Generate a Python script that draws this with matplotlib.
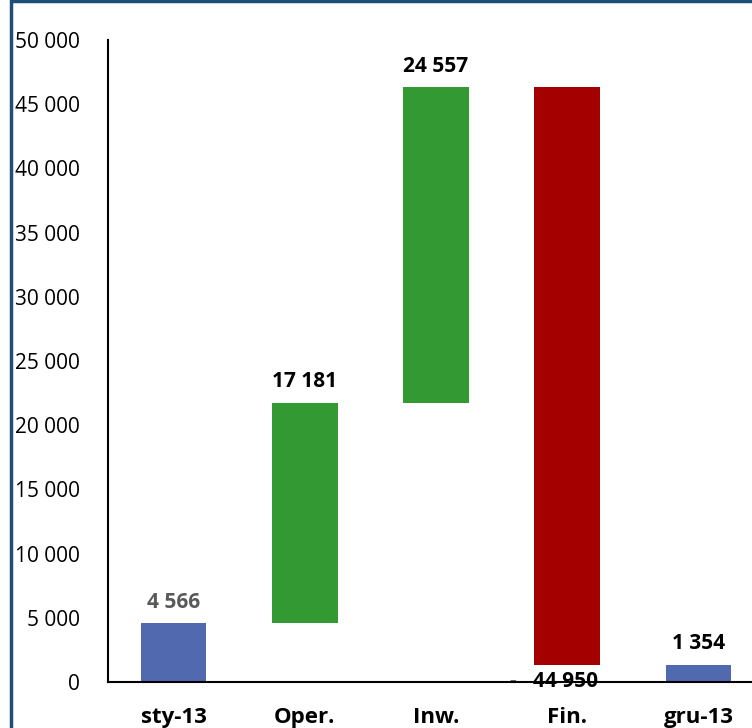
import matplotlib.pyplot as plt
import matplotlib.patches as mpatches
import numpy as np

# Cash flow waterfall data
categories = ['sty-13', 'Oper.', 'Inw.', 'Fin.', 'gru-13']
start_value = 4566
changes = [17181, 24557, -44950]
end_value = 1354

plt.rcParams['font.family'] = ['Open Sans', 'DejaVu Sans']

W, H = 752, 728
fig = plt.figure(figsize=(W / 100, H / 100), dpi=100)

# axes spans a bit past the right edge, like the cropped original
ax_left, ax_right = 108 / W, 764 / W
ax_bottom, ax_top = 1 - 682 / H, 1 - 40 / H
ax = fig.add_axes([ax_left, ax_bottom, ax_right - ax_left, ax_top - ax_bottom])

# compute bar bottoms / heights
bottoms = [0]
heights = [start_value]
running = start_value
for c in changes:
    if c >= 0:
        bottoms.append(running)
        heights.append(c)
    else:
        bottoms.append(running + c)
        heights.append(-c)
    running += c
bottoms.append(0)
heights.append(end_value)

colors = ['#5069AF'] + ['#339933' if c >= 0 else '#A50000' for c in changes] + ['#5069AF']
x = np.arange(len(categories))
bars = ax.bar(x, heights, bottom=bottoms, width=0.5, color=colors, zorder=2)

ax.set_xlim(-0.5, len(categories) - 0.5)
ax.set_ylim(0, 50000)
ax.set_yticks(np.arange(0, 50001, 5000))
ax.set_yticklabels([f'{v:,}'.replace(',', ' ') for v in range(0, 50001, 5000)], fontsize=15)
ax.set_xticks(x)
ax.set_xticklabels(categories, fontsize=16, fontweight='bold')
ax.tick_params(axis='y', length=0, pad=20)
ax.tick_params(axis='x', length=0, pad=18)

for s in ['top', 'right']:
    ax.spines[s].set_visible(False)
ax.spines['left'].set_linewidth(1.5)
ax.spines['bottom'].set_linewidth(1.5)
ax.spines['bottom'].set_zorder(3)

# value labels
values = [start_value] + changes + [end_value]
for i, (b, h, v) in enumerate(zip(bottoms, heights, values)):
    txt = f'{abs(v):,}'.replace(',', ' ')
    if v >= 0:
        col = '#595959' if i == 0 else 'black'
        ax.text(i, b + h + 800, txt, ha='center', va='bottom', fontsize=15,
                fontweight='bold', color=col, zorder=4)
    else:
        ax.text(i - 0.1, b - 1300, '-   ' + txt, ha='center', va='center', fontsize=15,
                fontweight='bold', color='black', zorder=4)

# dark blue frame around the chart area (cropped on right/bottom)
frame = mpatches.Rectangle((11 / W, -0.1), 1.2, 1.1 - 1 / H, transform=fig.transFigure,
                           fill=False, edgecolor='#1F4E79', linewidth=2.5)
fig.patches.append(frame)

fig.savefig('out.png', dpi=100)
